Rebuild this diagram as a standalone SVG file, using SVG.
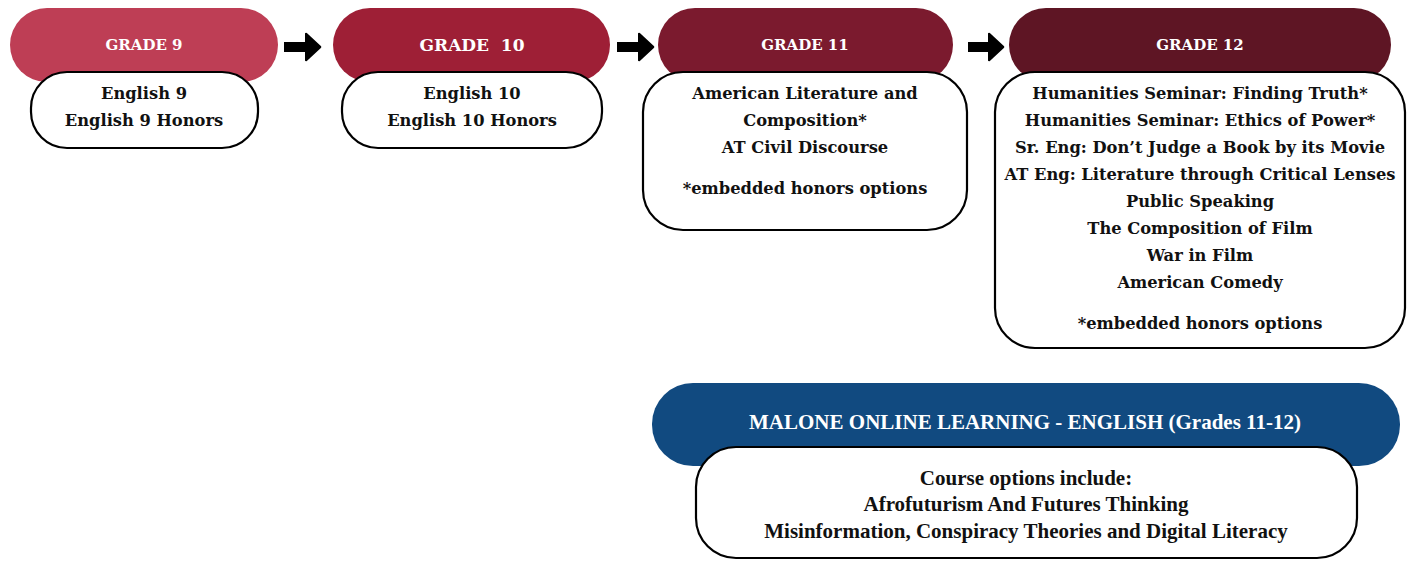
<svg xmlns="http://www.w3.org/2000/svg" width="1408" height="561" viewBox="0 0 1408 561">
<defs>
<marker id="ah" markerUnits="userSpaceOnUse" markerWidth="20" markerHeight="32" refX="1" refY="15" orient="auto">
<path d="M1,2 L15,15 L1,28 z" fill="#000" stroke="#000" stroke-width="2.5" stroke-linejoin="round"/>
</marker>
<style>
.box{fill:#fff;stroke:#000;stroke-width:2.2}
.t{font-family:"DejaVu Serif","Liberation Serif",serif;font-weight:bold;font-size:16.3px;fill:#111;text-anchor:middle}
.h{font-family:"DejaVu Serif","Liberation Serif",serif;font-weight:bold;font-size:15px;fill:#fff;text-anchor:middle}
.c{font-family:"Liberation Serif",serif;font-weight:bold;fill:#111;text-anchor:middle;font-size:21px}
.arr{stroke:#000;stroke-width:10;fill:none}
</style>
</defs>
<rect width="1408" height="561" fill="#fff"/>
<g id="connectors">
<line class="arr" x1="284" y1="47" x2="306" y2="47" marker-end="url(#ah)"/>
<line class="arr" x1="617" y1="47" x2="639" y2="47" marker-end="url(#ah)"/>
<line class="arr" x1="968" y1="47" x2="989" y2="47" marker-end="url(#ah)"/>
</g>
<g id="grade9">
<rect x="10" y="8" width="268" height="74" rx="37" fill="#BE3E55"/>
<text class="h" x="144" y="50">GRADE 9</text>
<rect class="box" x="31" y="72" width="227" height="76" rx="36"/>
<text class="t" x="144" y="99">English 9</text>
<text class="t" x="144" y="126">English 9 Honors</text>
</g>
<g id="grade10">
<rect x="333" y="8" width="277" height="74" rx="37" fill="#9E1F36"/>
<text class="h" x="472" y="51" style="font-size:17px" xml:space="preserve">GRADE  10</text>
<rect class="box" x="342" y="72" width="260" height="76" rx="36"/>
<text class="t" x="472" y="99">English 10</text>
<text class="t" x="472" y="126">English 10 Honors</text>
</g>
<g id="grade11">
<rect x="658" y="8" width="295" height="74" rx="37" fill="#7B1A2E"/>
<text class="h" x="805" y="50">GRADE 11</text>
<rect class="box" x="643" y="72" width="324" height="158" rx="40"/>
<text class="t" x="805" y="99">American Literature and</text>
<text class="t" x="805" y="126">Composition*</text>
<text class="t" x="805" y="153">AT Civil Discourse</text>
<text class="t" x="805" y="194">*embedded honors options</text>
</g>
<g id="grade12">
<rect x="1009" y="8" width="382" height="74" rx="37" fill="#5E1524"/>
<text class="h" x="1200" y="50">GRADE 12</text>
<rect class="box" x="995" y="72" width="410" height="276" rx="40"/>
<text class="t" x="1200" y="99">Humanities Seminar: Finding Truth*</text>
<text class="t" x="1200" y="126">Humanities Seminar: Ethics of Power*</text>
<text class="t" x="1200" y="153">Sr. Eng: Don’t Judge a Book by its Movie</text>
<text class="t" x="1200" y="180">AT Eng: Literature through Critical Lenses</text>
<text class="t" x="1200" y="207">Public Speaking</text>
<text class="t" x="1200" y="234">The Composition of Film</text>
<text class="t" x="1200" y="261">War in Film</text>
<text class="t" x="1200" y="288">American Comedy</text>
<text class="t" x="1200" y="329">*embedded honors options</text>
</g>
<g id="malone">
<rect x="652" y="383" width="748" height="83" rx="41" fill="#114A80"/>
<text class="c" x="1025" y="429" style="fill:#fff">MALONE ONLINE LEARNING - ENGLISH (Grades 11-12)</text>
<rect class="box" x="696" y="447" width="661" height="111" rx="40"/>
<text class="c" x="1026" y="485">Course options include:</text>
<text class="c" x="1026" y="511">Afrofuturism And Futures Thinking</text>
<text class="c" x="1026" y="538">Misinformation, Conspiracy Theories and Digital Literacy</text>
</g>
</svg>
